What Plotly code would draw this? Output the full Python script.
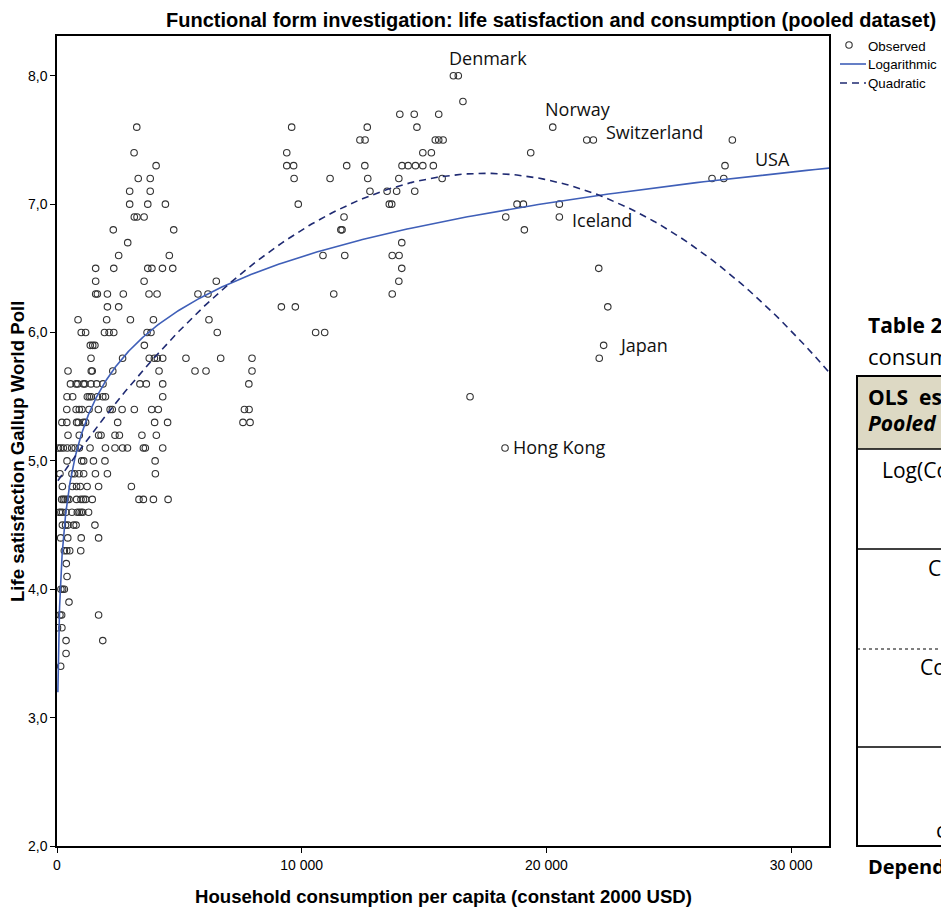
import numpy as np
import plotly.graph_objects as go

# ---------------- data ----------------
consumption = [
    16200, 16400,
    16590,
    14010, 14600, 15600,
    3260, 9590, 12680, 14710, 20260,
    12380, 12590, 15460, 15600, 15780, 21650, 21920, 27600,
    3150, 9390, 14950, 15300, 19360,
    4050, 9390, 9670, 11840, 12580, 14100, 14350, 14650, 14950, 15380, 27300,
    3320, 3810, 9690, 11160, 12700, 13970, 15740, 26770, 27250,
    2970, 3810, 12790, 13490, 13880, 14620,
    2970, 3710, 4430, 9860, 13580, 13680, 18800, 19060, 20530,
    3160, 3270, 3560, 11730, 18340, 20530,
    2300, 4770, 11600, 11650, 19100,
    2890, 14090,
    2520, 4590, 10870, 11760, 13700, 13980,
    1580, 2320, 3710, 3880, 4310, 4730, 14090, 22140,
    1580, 3560, 6510, 13970,
    1580, 1650, 2060, 2710, 3760, 4090, 5760, 6170, 11310, 13700,
    2060, 2520, 9170, 9740, 22510,
    860, 2030, 3000, 3940, 6210,
    990, 1170, 1940, 2130, 2320, 3680, 3840, 6550, 10570, 10940,
    1360, 1460, 1550, 3570, 22340,
    1390, 2680, 3770, 3980, 4100, 4320, 5270, 6690, 7970, 22160,
    450, 1400, 1440, 2280, 4170, 5640, 6090, 7970,
    550, 780, 850, 1080, 1140, 1390, 1620, 1880, 3390, 3650, 4320, 7840,
    410, 640, 1240, 1320, 1400, 1650, 1870, 1980, 4320, 16880,
    400, 780, 910, 1020, 1310, 1690, 2170, 2260, 2660, 3160, 3870, 4140, 7660, 7850,
    200, 400, 800, 870, 1080, 1170, 2480, 3990, 4520, 7600, 7890,
    450, 910, 1700, 1800, 2370, 2550, 3470, 4060,
    60, 150, 260, 420, 600, 740, 910, 1350, 1980, 2370, 2680, 2880, 3530, 3610, 4320, 18310,
    410, 1010, 1090, 1490, 1960, 4010,
    120, 610, 720, 900, 1090, 1570, 2060, 4020,
    220, 630, 800, 950, 1230, 1700, 3040,
    190, 260, 330, 420, 490, 800, 980, 1080, 1170, 1440, 3350, 3530, 3940, 4540,
    95, 160, 230, 370, 610, 830, 910, 990, 1050, 1290,
    220, 350, 450, 680, 780, 1550,
    150, 440, 990, 1700,
    300, 400, 520, 970,
    380,
    410,
    160, 230, 300,
    490,
    120, 190, 1700,
    20, 200,
    370, 1870,
    370,
    150,
]

life_satisfaction = (
    [8.0] * 2 + [7.8] * 1 + [7.7] * 3 + [7.6] * 5 + [7.5] * 8 + [7.4] * 5 +
    [7.3] * 11 + [7.2] * 9 + [7.1] * 6 + [7.0] * 9 + [6.9] * 6 + [6.8] * 5 +
    [6.7] * 2 + [6.6] * 6 + [6.5] * 8 + [6.4] * 4 + [6.3] * 10 + [6.2] * 5 +
    [6.1] * 5 + [6.0] * 10 + [5.9] * 5 + [5.8] * 10 + [5.7] * 8 + [5.6] * 12 +
    [5.5] * 10 + [5.4] * 14 + [5.3] * 11 + [5.2] * 8 + [5.1] * 16 + [5.0] * 6 +
    [4.9] * 8 + [4.8] * 7 + [4.7] * 14 + [4.6] * 10 + [4.5] * 6 + [4.4] * 4 +
    [4.3] * 4 + [4.2] * 1 + [4.1] * 1 + [4.0] * 3 + [3.9] * 1 + [3.8] * 3 +
    [3.7] * 2 + [3.6] * 2 + [3.5] * 1 + [3.4] * 1
)

# fitted curves (coefficients)
log_intercept = 1.065
log_slope = 0.600
quad_c0 = 4.836
quad_c1 = 2.7475e-4
quad_c2 = -7.85e-9
fit_x_min = 35
fit_x_max = 31700

# labelled countries
country_names = ["Denmark", "Norway", "Switzerland", "USA", "Iceland", "Japan", "Hong Kong"]
country_label_x = [15930, 19850, 22350, 28450, 20960, 22880, 18550]
country_label_y = [8.14, 7.74, 7.56, 7.35, 6.88, 5.90, 5.11]

legend_names = ["Observed", "Logarithmic", "Quadratic"]

y_tick_values = [2, 3, 4, 5, 6, 7, 8]
y_tick_labels = ["2,0", "3,0", "4,0", "5,0", "6,0", "7,0", "8,0"]
x_tick_values = [0, 10000, 20000, 30000]
x_tick_labels = ["0", "10 000", "20 000", "30 000"]

# ---------------- figure ----------------
SANS = "Liberation Sans, Arial, sans-serif"
DOC = "Open Sans, Noto Sans, sans-serif"
MARKER_COLOR = "#333333"
LOG_COLOR = "#3f5fb8"
QUAD_COLOR = "#1f2a72"

fit_x = np.geomspace(fit_x_min, fit_x_max, 600)
log_y = log_intercept + log_slope * np.log(fit_x)
quad_y = quad_c0 + quad_c1 * fit_x + quad_c2 * fit_x ** 2

fig = go.Figure()
fig.add_trace(go.Scatter(
    x=consumption, y=life_satisfaction, mode="markers", name=legend_names[0],
    marker=dict(symbol="circle-open", size=6.5, color=MARKER_COLOR, line=dict(width=1.1)),
))
fig.add_trace(go.Scatter(
    x=fit_x, y=log_y, mode="lines", name=legend_names[1],
    line=dict(color=LOG_COLOR, width=1.6),
))
fig.add_trace(go.Scatter(
    x=fit_x, y=quad_y, mode="lines", name=legend_names[2],
    line=dict(color=QUAD_COLOR, width=1.6, dash="7px,5px"),
))

annotations = []
for name, lx, ly in zip(country_names, country_label_x, country_label_y):
    annotations.append(dict(x=lx, y=ly, xref="x", yref="y", text=name, showarrow=False,
                            xanchor="left", yanchor="middle",
                            font=dict(family=DOC, size=18, color="#111111")))

def px_x(p):
    return (p - 57) / 772.0

def px_y(p):
    return (846 - p) / 810.0

# axis titles
annotations.append(dict(x=px_x(443), y=px_y(897), xref="paper", yref="paper",
                        text="<b>Household consumption per capita (constant 2000 USD)</b>",
                        showarrow=False, xanchor="center", yanchor="middle",
                        font=dict(family=SANS, size=18.6, color="black")))
annotations.append(dict(x=px_x(18), y=px_y(452), xref="paper", yref="paper",
                        text="<b>Life satisfaction Gallup World Poll</b>", textangle=-90,
                        showarrow=False, xanchor="center", yanchor="middle",
                        font=dict(family=SANS, size=18.6, color="black")))
# title
annotations.append(dict(x=px_x(938), y=px_y(20), xref="paper", yref="paper",
                        text="<b>Functional form investigation: life satisfaction and consumption (pooled dataset)</b>",
                        showarrow=False, xanchor="right", yanchor="middle",
                        font=dict(family=SANS, size=20, color="black")))

# legend (drawn at the reference's compact spacing)
legend_rows_px = [46, 65, 83]
for name, ry in zip(legend_names, legend_rows_px):
    annotations.append(dict(x=px_x(866), y=px_y(ry), xref="paper", yref="paper", text=name,
                            showarrow=False, xanchor="left", yanchor="middle",
                            font=dict(family=SANS, size=13.3, color="black")))

# partially visible document table on the right
table_texts = [
    ("<b>Table 2:</b>", 866, 325, 21),
    ("consumption", 866, 356, 22),
    ("<b>OLS  estimates</b>", 866, 397, 21),
    ("<b><i>Pooled  dataset</i></b>", 866, 423, 21),
    ("Log(Consumption)", 880, 470, 21),
    ("Consumption", 926, 568, 21),
    ("Consumption²", 918, 667, 21),
    ("c", 934, 830, 21),
    ("<b>Dependent variable</b>", 866, 866, 20),
]
for txt, tx, ty, fs in table_texts:
    annotations.append(dict(x=px_x(tx), y=px_y(ty), xref="paper", yref="paper", text=txt,
                            showarrow=False, xanchor="left", yanchor="middle",
                            font=dict(family=DOC, size=fs, color="black")))

shapes = [
    # legend symbols
    dict(type="circle", xref="paper", yref="paper",
         x0=px_x(845.8), x1=px_x(852.2), y0=px_y(41.8), y1=px_y(48.2),
         line=dict(color=MARKER_COLOR, width=1.1)),
    dict(type="line", xref="paper", yref="paper", x0=px_x(840), x1=px_x(866),
         y0=px_y(64), y1=px_y(64), line=dict(color=LOG_COLOR, width=1.6)),
    dict(type="line", xref="paper", yref="paper", x0=px_x(840), x1=px_x(866),
         y0=px_y(83), y1=px_y(83), line=dict(color=QUAD_COLOR, width=1.6, dash="7px,5px")),
    # document table
    dict(type="rect", xref="paper", yref="paper", x0=px_x(857), x1=px_x(1100),
         y0=px_y(376), y1=px_y(449), fillcolor="#ddd9c4", line=dict(width=0), layer="below"),
    dict(type="rect", xref="paper", yref="paper", x0=px_x(857), x1=px_x(1100),
         y0=px_y(376), y1=px_y(846), line=dict(color="black", width=2)),
    dict(type="line", xref="paper", yref="paper", x0=px_x(857), x1=px_x(1100),
         y0=px_y(449), y1=px_y(449), line=dict(color="black", width=1.5)),
    dict(type="line", xref="paper", yref="paper", x0=px_x(857), x1=px_x(1100),
         y0=px_y(549), y1=px_y(549), line=dict(color="black", width=1.5)),
    dict(type="line", xref="paper", yref="paper", x0=px_x(857), x1=px_x(1100),
         y0=px_y(649), y1=px_y(649), line=dict(color="black", width=1, dash="dot")),
    dict(type="line", xref="paper", yref="paper", x0=px_x(857), x1=px_x(1100),
         y0=px_y(747), y1=px_y(747), line=dict(color="black", width=1.5)),
]

fig.update_layout(
    width=941, height=909,
    margin=dict(l=57, r=112, t=36, b=63, autoexpand=False),
    paper_bgcolor="white", plot_bgcolor="white",
    showlegend=False,
    annotations=annotations,
    shapes=shapes,
)
fig.update_xaxes(range=[0, 31550], tickvals=x_tick_values, ticktext=x_tick_labels,
                 showgrid=False, zeroline=False, showline=True, mirror=True,
                 linecolor="black", linewidth=1.5, ticks="outside", ticklen=5,
                 tickcolor="black", tickfont=dict(family=SANS, size=14, color="black"))
fig.update_yaxes(range=[2.0, 8.31], tickvals=y_tick_values, ticktext=y_tick_labels,
                 showgrid=False, zeroline=False, showline=True, mirror=True,
                 linecolor="black", linewidth=1.5, ticks="outside", ticklen=5,
                 tickcolor="black", tickfont=dict(family=SANS, size=14, color="black"))

fig.write_html("out.html")
